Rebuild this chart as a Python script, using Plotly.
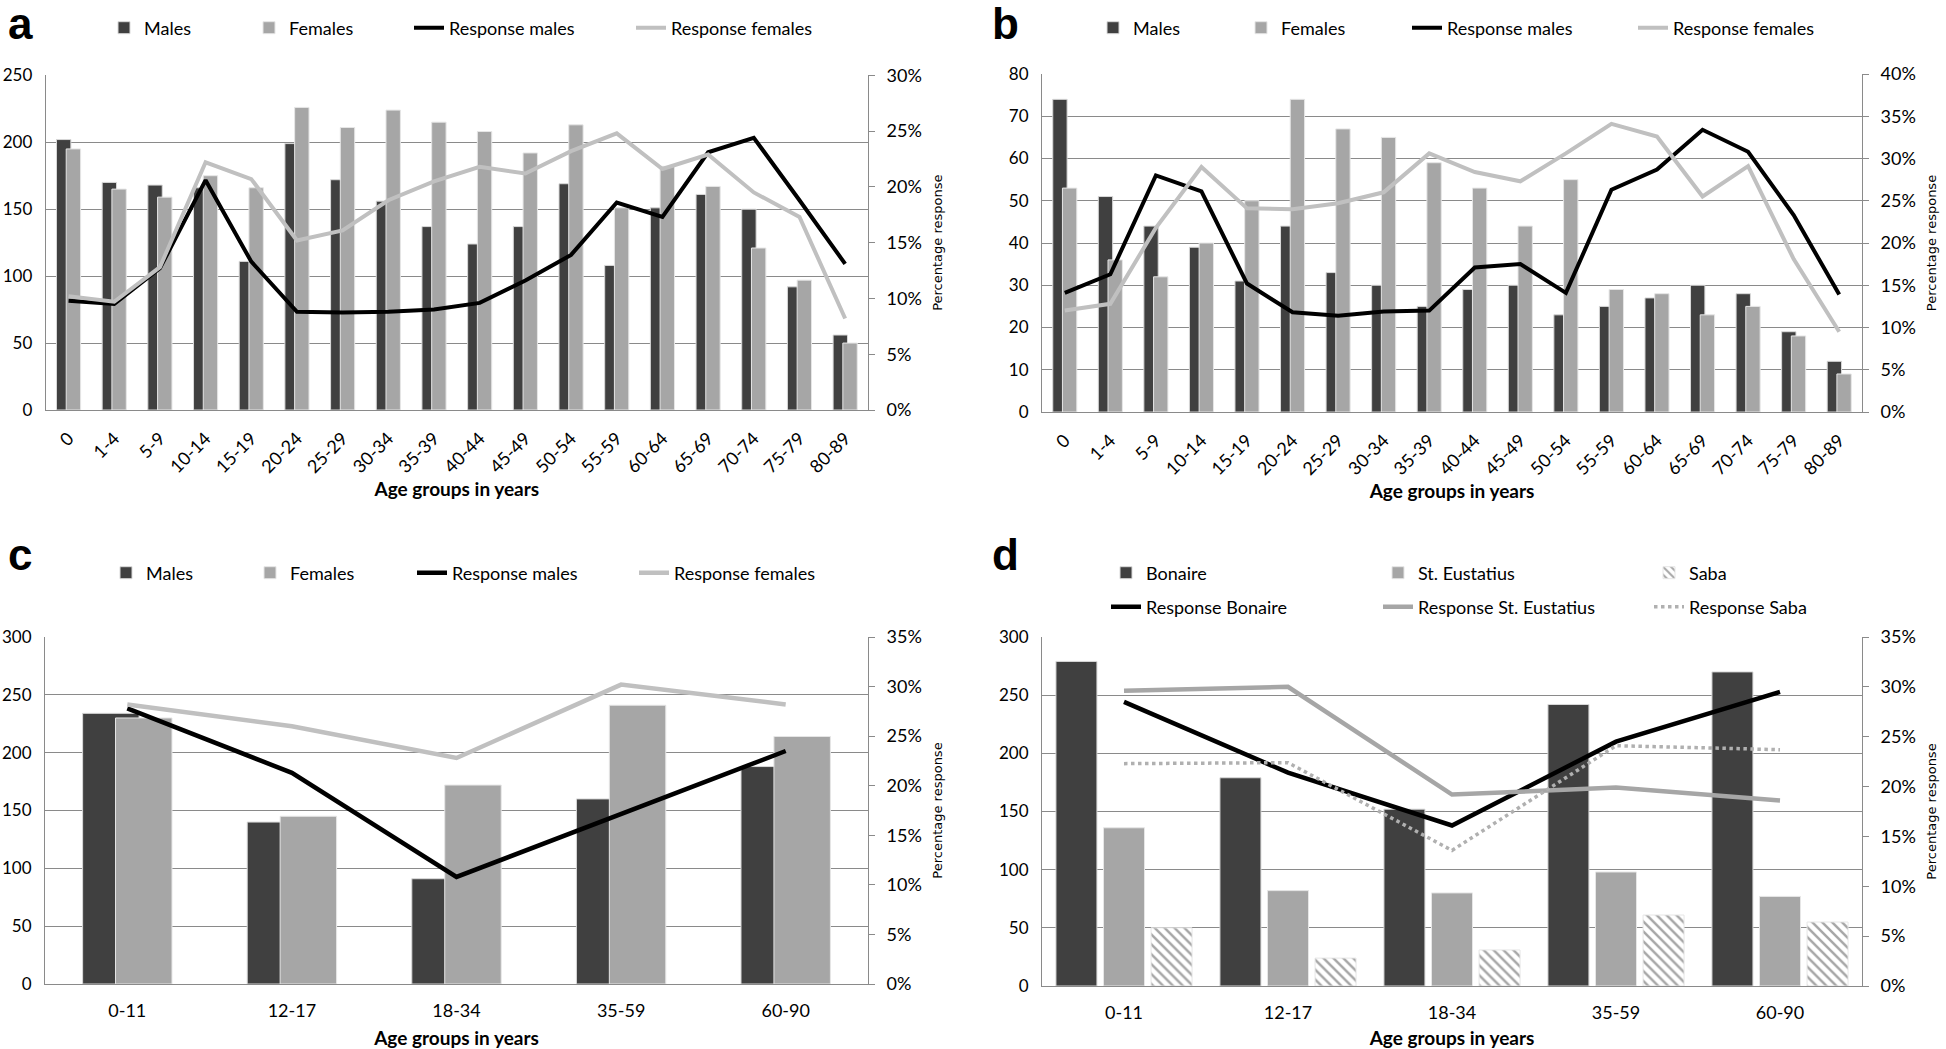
import plotly.graph_objects as go

W, H = 1946, 1049

# ---------------- data ----------------
age_groups_ab = ["0", "1-4", "5-9", "10-14", "15-19", "20-24", "25-29", "30-34", "35-39",
                 "40-44", "45-49", "50-54", "55-59", "60-64", "65-69", "70-74", "75-79", "80-89"]
age_groups_cd = ["0-11", "12-17", "18-34", "35-59", "60-90"]

a_males = [202, 170, 168, 166, 111, 199, 172, 156, 137, 124, 137, 169, 108, 151, 161, 150, 92, 56]
a_females = [195, 165, 159, 175, 166, 226, 211, 224, 215, 208, 192, 213, 151, 182, 167, 121, 97, 50]
a_resp_males = [9.8, 9.5, 12.7, 20.6, 13.3, 8.8, 8.75, 8.8, 9.0, 9.6, 11.6, 13.9, 18.6, 17.3, 23.1, 24.4, 18.8, 13.1]
a_resp_females = [10.2, 9.7, 12.8, 22.2, 20.7, 15.2, 16.1, 18.8, 20.5, 21.8, 21.2, 23.2, 24.8, 21.6, 22.9, 19.5, 17.3, 8.2]

b_males = [74, 51, 44, 39, 31, 44, 33, 30, 25, 29, 30, 23, 25, 27, 30, 28, 19, 12]
b_females = [53, 36, 32, 40, 50, 74, 67, 65, 59, 53, 44, 55, 29, 28, 23, 25, 18, 9]
b_resp_males = [14.1, 16.3, 28.0, 26.1, 15.2, 11.8, 11.4, 11.9, 12.0, 17.1, 17.5, 14.1, 26.3, 28.7, 33.4, 30.8, 23.3, 13.9]
b_resp_females = [12.0, 12.8, 21.8, 29.0, 24.1, 24.0, 24.7, 26.0, 30.6, 28.4, 27.3, 30.6, 34.1, 32.6, 25.5, 29.1, 18.1, 9.5]

c_males = [234, 140, 91, 160, 188]
c_females = [230, 145, 172, 241, 214]
c_resp_males = [27.8, 21.3, 10.8, 17.2, 23.5]
c_resp_females = [28.2, 26.0, 22.8, 30.2, 28.2]

d_bonaire = [279, 179, 152, 242, 270]
d_st_eustatius = [136, 82, 80, 98, 77]
d_saba = [50, 24, 31, 61, 55]
d_resp_bonaire = [28.5, 21.4, 16.1, 24.5, 29.5]
d_resp_st_eustatius = [29.6, 30.0, 19.2, 19.9, 18.6]
d_resp_saba = [22.3, 22.4, 13.6, 24.1, 23.7]

# ---------------- styles ----------------
DARK = "#404040"
LIGHT = "#a6a6a6"
LINE_LIGHT = "#c0c0c0"
GRID = "#8a8a8a"
FAM = "Lato, Carlito, Liberation Sans"
TICKFONT = dict(family=FAM, size=18, color="black")
LEFTTICKFONT = dict(family=FAM, size=17, color="black")
LEGFONT = dict(family=FAM, size=18, color="black")
LETTER_SIZE = 44

bar_dark = dict(color=DARK, line=dict(color="#d9d9d9", width=1))
bar_light = dict(color=LIGHT, line=dict(color="#e6e6e6", width=1))
bar_hatch = dict(color="white", line=dict(color="#e6e6e6", width=1),
                 pattern=dict(shape="\\", fgcolor=LIGHT, bgcolor="white", size=7, solidity=0.35))

panels = [
    dict(letter="a", cats=age_groups_ab, px=(45.7, 868), py=(75.3, 410), ymax=250, ydt=50, y2max=30,
         angle=-45, bw=0.315, sp=0.213, letter_x=6, letter_base=40, xt_standoff=5,
         bars=[("Males", a_males, bar_dark), ("Females", a_females, bar_light)],
         lines=[("Response males", a_resp_males, dict(color="black", width=4)),
                ("Response females", a_resp_females, dict(color=LINE_LIGHT, width=4))],
         legpos=[(144, 28), (289, 28), (449, 28), (671, 28)]),
    dict(letter="b", cats=age_groups_ab, px=(1042, 1862), py=(74, 412), ymax=80, ydt=10, y2max=40,
         angle=-45, bw=0.315, sp=0.213, letter_x=990, letter_base=40, xt_standoff=4,
         bars=[("Males", b_males, bar_dark), ("Females", b_females, bar_light)],
         lines=[("Response males", b_resp_males, dict(color="black", width=4)),
                ("Response females", b_resp_females, dict(color=LINE_LIGHT, width=4))],
         legpos=[(1133, 28), (1281, 28), (1447, 28), (1673, 28)]),
    dict(letter="c", cats=age_groups_cd, px=(45, 868), py=(637, 984), ymax=300, ydt=50, y2max=35,
         angle=0, bw=0.343, sp=0.2, letter_x=6, letter_base=571, xt_standoff=15,
         bars=[("Males", c_males, bar_dark), ("Females", c_females, bar_light)],
         lines=[("Response males", c_resp_males, dict(color="black", width=4.5)),
                ("Response females", c_resp_females, dict(color=LINE_LIGHT, width=4.5))],
         legpos=[(146, 573), (290, 573), (452, 573), (674, 573)]),
    dict(letter="d", cats=age_groups_cd, px=(1042, 1862), py=(637, 986), ymax=300, ydt=50, y2max=35,
         angle=0, bw=0.25, sp=0.29, letter_x=990, letter_base=571, xt_standoff=14,
         bars=[("Bonaire", d_bonaire, bar_dark), ("St. Eustatius", d_st_eustatius, bar_light),
               ("Saba", d_saba, bar_hatch)],
         lines=[("Response Bonaire", d_resp_bonaire, dict(color="black", width=4.5)),
                ("Response St. Eustatius", d_resp_st_eustatius, dict(color=LIGHT, width=4.5)),
                ("Response Saba", d_resp_saba, dict(color="#b0b0b0", width=3.5, dash="dot"))],
         legpos=[(1146, 573), (1418, 573), (1689, 573), (1146, 607), (1418, 607), (1689, 607)]),
]

fig = go.Figure()
layout = dict(width=W, height=H, margin=dict(l=0, r=0, t=0, b=0, autoexpand=False),
              paper_bgcolor="white", plot_bgcolor="white", template="none",
              barmode="overlay", showlegend=True, annotations=[])

leg_idx = 0
for i, p in enumerate(panels, start=1):
    xa = "x" if i == 1 else f"x{i}"
    ya = "y" if i == 1 else f"y{i}"
    y2 = f"y{i + 4}"
    xkey = "xaxis" if i == 1 else f"xaxis{i}"
    ykey = "yaxis" if i == 1 else f"yaxis{i}"
    y2key = f"yaxis{i + 4}"
    dom_x = [p["px"][0] / W, p["px"][1] / W]
    dom_y = [1 - p["py"][1] / H, 1 - p["py"][0] / H]

    items = []
    n = len(p["bars"])
    for k, (name, vals, marker) in enumerate(p["bars"]):
        center = (k - (n - 1) / 2) * p["sp"]
        items.append(go.Bar(x=p["cats"], y=vals, name=name, marker=marker,
                            width=p["bw"], offset=center - p["bw"] / 2,
                            xaxis=xa, yaxis=ya))
    for name, vals, line in p["lines"]:
        items.append(go.Scatter(x=p["cats"], y=vals, name=name, mode="lines", line=line,
                                xaxis=xa, yaxis=y2))
    for tr, (tx, ty) in zip(items, p["legpos"]):
        leg_idx += 1
        lname = "legend" if leg_idx == 1 else f"legend{leg_idx}"
        tr.legend = lname
        tr.showlegend = True
        fig.add_trace(tr)
        layout[lname] = dict(x=(tx - 40) / W, y=1 - ty / H, xanchor="left", yanchor="middle",
                             orientation="h", bgcolor="rgba(0,0,0,0)", borderwidth=0,
                             font=LEGFONT, itemclick=False, itemdoubleclick=False)

    layout[xkey] = dict(domain=dom_x, anchor=ya, type="category", showgrid=False,
                        showline=True, linecolor=GRID, linewidth=1, ticks="",
                        tickangle=p["angle"], tickfont=TICKFONT, ticklabelstandoff=10,
                        automargin=False, zeroline=False,
                        title=dict(text="Age groups in years", standoff=p["xt_standoff"],
                                   font=dict(family=FAM, size=19, weight="bold", color="black")))
    layout[ykey] = dict(domain=dom_y, anchor=xa, range=[0, p["ymax"]], dtick=p["ydt"],
                        tick0=0, showgrid=True, gridcolor=GRID, gridwidth=1,
                        showline=True, linecolor=GRID, linewidth=1, ticks="",
                        zeroline=False, tickfont=LEFTTICKFONT, ticklabelstandoff=9,
                        automargin=False)
    layout[y2key] = dict(overlaying=ya, anchor=xa, side="right", range=[0, p["y2max"]],
                         dtick=5, tick0=0, ticksuffix="%", showgrid=False, zeroline=False,
                         showline=True, linecolor=GRID, linewidth=1, ticks="outside",
                         ticklen=6, tickcolor=GRID, tickfont=TICKFONT, ticklabelstandoff=8,
                         automargin=False,
                         title=dict(text="Percentage response", standoff=11,
                                    font=dict(family="DejaVu Sans", size=13, color="black")))
    layout["annotations"].append(dict(text=p["letter"], xref="paper", yref="paper",
                                      x=p["letter_x"] / W, y=1 - (p["letter_base"] + 10) / H,
                                      xanchor="left", yanchor="bottom", showarrow=False,
                                      font=dict(family="Liberation Sans, Arial", size=LETTER_SIZE,
                                                weight="bold", color="black")))

fig.update_layout(**layout)
fig.write_html("out.html", config={"displayModeBar": False},
               post_script="document.body.style.margin='0';document.body.style.overflow='hidden';")
